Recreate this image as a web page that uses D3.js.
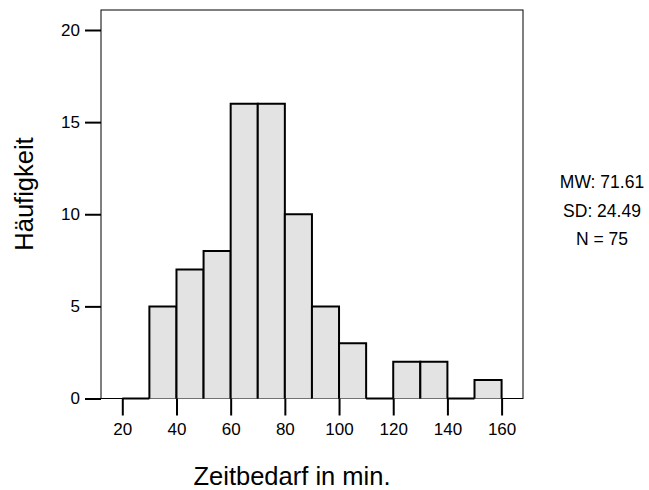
<!DOCTYPE html>
<html>
<head>
<meta charset="utf-8">
<script src="https://cdn.jsdelivr.net/npm/d3@7"></script>
<style>
  body { margin: 0; background: white; }
  text { font-family: "Liberation Sans", Arial, sans-serif; fill: black; }
</style>
</head>
<body>
<div id="chart"></div>
<script>
/* CONSTANTS AND GLOBALS */
const width = 649;
const height = 490;

/* DATA */
const binStarts = [20, 30, 40, 50, 60, 70, 80, 90, 100, 110, 120, 130, 140, 150];
const counts    = [0, 5, 7, 8, 16, 16, 10, 5, 3, 0, 2, 2, 0, 1];
const binWidth = 10;
const xTicks = [20, 40, 60, 80, 100, 120, 140, 160];
const yTicks = [0, 5, 10, 15, 20];
const statLines = ["MW: 71.61", "SD: 24.49", "N = 75"];

const data = binStarts.map((s, i) => ({ x0: s, x1: s + binWidth, count: counts[i] }));

/* SCALES */
const xScale = d3.scaleLinear()
  .domain([12.14, 167.9])
  .range([101, 523]);

const yScale = d3.scaleLinear()
  .domain([0, 20])
  .range([398.5, 30]);

const plotTop = 10;

/* HTML ELEMENTS */
const svg = d3.select("#chart")
  .append("svg")
  .attr("width", width)
  .attr("height", height)
  .style("background-color", "white");

// frame
svg.append("rect")
  .attr("x", xScale.range()[0])
  .attr("y", plotTop)
  .attr("width", xScale.range()[1] - xScale.range()[0])
  .attr("height", yScale(0) - plotTop)
  .attr("fill", "none")
  .attr("stroke", "black")
  .attr("stroke-width", 1);

// bars
svg.selectAll(".bar")
  .data(data)
  .join("path")
  .attr("class", "bar")
  .attr("d", d => {
    const b = yScale(0), t = yScale(d.count);
    return `M${xScale(d.x0)},${b}V${t}H${xScale(d.x1)}V${b}`;
  })
  .attr("fill", "#e3e3e3")
  .attr("stroke", "black")
  .attr("stroke-width", 2);

// y axis
const yAxis = svg.append("g")
  .attr("transform", `translate(${xScale.range()[0]},0)`)
  .call(d3.axisLeft(yScale).tickValues(yTicks).tickSize(16).tickPadding(5));
yAxis.select(".domain").remove();
yAxis.selectAll("line").attr("stroke-width", 2);
yAxis.selectAll("text").style("font-size", "17px").attr("font-family", null);

// x axis
const xAxis = svg.append("g")
  .attr("transform", `translate(0,${yScale(0)})`)
  .call(d3.axisBottom(xScale).tickValues(xTicks).tickSize(17).tickPadding(7));
xAxis.select(".domain").remove();
xAxis.selectAll("line").attr("stroke-width", 2);
xAxis.selectAll("text").style("font-size", "17px").attr("font-family", null);

// axis titles
svg.append("text")
  .attr("x", 292)
  .attr("y", 485)
  .attr("text-anchor", "middle")
  .style("font-size", "25.5px")
  .text("Zeitbedarf in min.");

svg.append("text")
  .attr("transform", "translate(33,194) rotate(-90)")
  .attr("text-anchor", "middle")
  .style("font-size", "25.5px")
  .text("Häufigkeit");

// statistics
svg.selectAll(".stat")
  .data(statLines)
  .join("text")
  .attr("class", "stat")
  .attr("x", 602)
  .attr("y", (d, i) => 188 + i * 28.5)
  .attr("text-anchor", "middle")
  .style("font-size", "17.5px")
  .text(d => d);
</script>
</body>
</html>
